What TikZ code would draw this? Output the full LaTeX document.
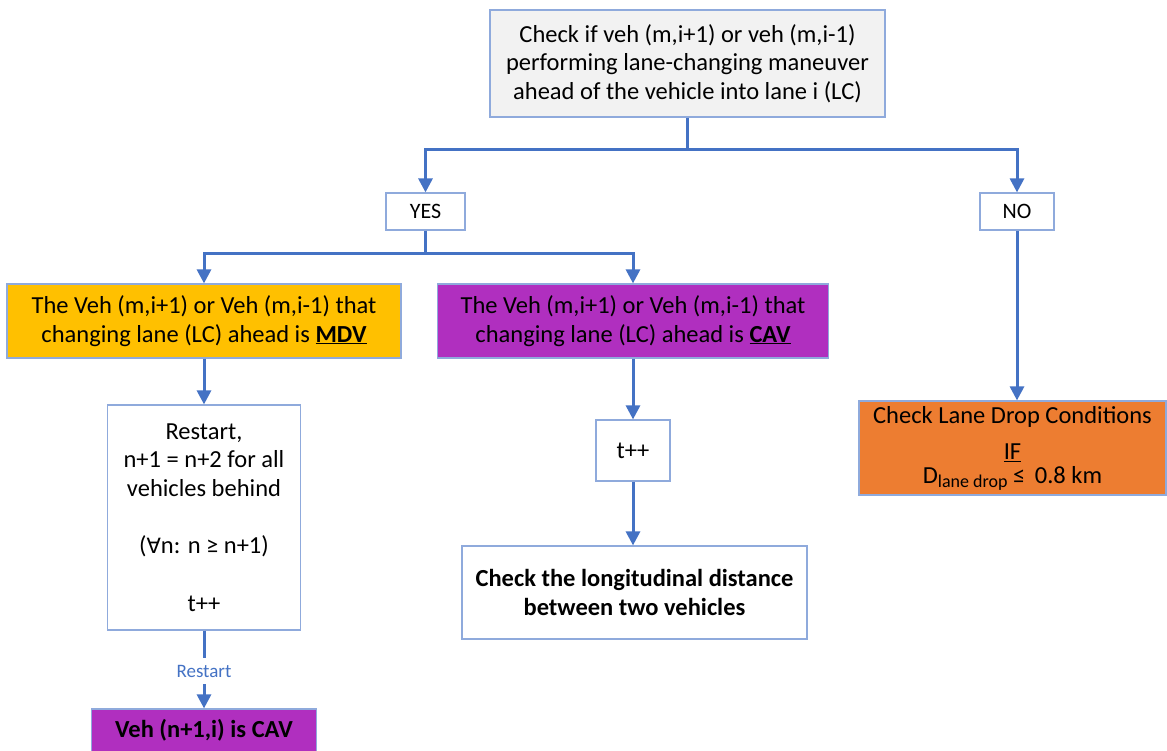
\documentclass[tikz,border=0pt]{standalone}
\usepackage{fontspec}
\setmainfont{Carlito}
\newfontfamily\symfont{DejaVu Sans}
\usetikzlibrary{arrows.meta}
\definecolor{linkblue}{HTML}{4472C4}
\definecolor{edgeblue}{HTML}{8FAADC}
\definecolor{paleGray}{HTML}{F2F2F2}
\definecolor{amber}{HTML}{FFC000}
\definecolor{violetfill}{HTML}{B02FBF}
\definecolor{tangerine}{HTML}{ED7D31}

\begin{document}
\begin{tikzpicture}[x=1pt,y=-1pt,
  box/.style={draw=edgeblue,line width=1.2pt,rectangle,inner sep=0pt,
              align=center,font=\fontsize{24.5}{28.5}\selectfont},
  boldbox/.style={box,font=\fontsize{24.5}{28.5}\selectfont\bfseries},
  answer/.style={box,fill=white,minimum height=37pt,font=\fontsize{22}{26}\selectfont},
  link/.style={draw=linkblue,line width=3pt},
  flow/.style={link,-{Triangle[width=14pt,length=14pt]}},
]
\useasboundingbox (0,0) rectangle (1167,751);

% decision box at the top
\node[box,fill=paleGray,minimum width=395pt,minimum height=107pt] (check) at (687.5,63.5)
  {Check if veh (m,i+1) or veh (m,i-1)\\performing lane-changing maneuver\\ahead of the vehicle into lane i (LC)};

% answers
\node[answer,minimum width=79pt] (yes) at (425.5,211.5) {YES};
\node[answer,minimum width=74pt] (no) at (1017,211.5) {NO};

% YES branch: vehicle type
\node[box,fill=amber,minimum width=394pt,minimum height=74pt] (mdv) at (204,321)
  {The Veh (m,i+1) or Veh (m,i-1) that\\changing lane (LC) ahead is \underline{\textbf{MDV}}};
\node[box,fill=violetfill,minimum width=391pt,minimum height=74pt] (cav) at (633,321)
  {The Veh (m,i+1) or Veh (m,i-1) that\\changing lane (LC) ahead is \underline{\textbf{CAV}}};

% MDV chain
\node[box,fill=white,minimum width=193pt,minimum height=225pt] (restart) at (204,517.5)
  {Restart,\\n+1 = n+2 for all\\vehicles behind\\[29pt]({\symfont\fontsize{21}{24}\selectfont ∀}n: n ≥ n+1)\\[29pt]t++};
\node[inner sep=0pt,minimum height=26pt,text=linkblue,font=\fontsize{19}{22}\selectfont]
  (rlabel) at (204,671) {Restart};
\node[boldbox,fill=violetfill,minimum width=225pt,minimum height=43pt]
  (final) at (204,730.5) {Veh (n+1,i) is CAV};

% CAV chain
\node[box,fill=white,minimum width=74pt,minimum height=61pt] (tpp) at (633,450.5) {t++};
\node[boldbox,fill=white,minimum width=345pt,minimum height=93pt]
  (dist) at (634.5,592.5) {Check the longitudinal distance\\between two vehicles};

% NO branch
\node[box,fill=tangerine,minimum width=307pt,minimum height=94pt] (drop) at (1012.5,448)
  {Check Lane Drop Conditions\\[8pt]\underline{IF}\\[-5pt]D\raisebox{-0.35ex}{\fontsize{18}{18}\selectfont lane drop} ≤\, 0.8 km};

% junction points
\coordinate (split1) at (687.5,150);
\coordinate (split2) at (425.5,254);

% connectors
\draw[link] (check.south) -- (split1);
\draw[flow] (split1) -| (yes.north);
\draw[flow] (split1) -| (no.north);
\draw[link] (yes.south) -- (split2);
\draw[flow] (split2) -| (mdv.north);
\draw[flow] (split2) -| (cav.north);
\draw[flow] (mdv.south) -- (restart.north);
\draw[link] (restart.south) -- (rlabel.north);
\draw[flow] (rlabel.south) -- (final.north);
\draw[flow] (cav.south) -- (tpp.north);
\draw[flow] (tpp.south) -- (tpp.south |- dist.north);
\draw[flow] (no.south) -- (no.south |- drop.north);
\end{tikzpicture}
\end{document}
